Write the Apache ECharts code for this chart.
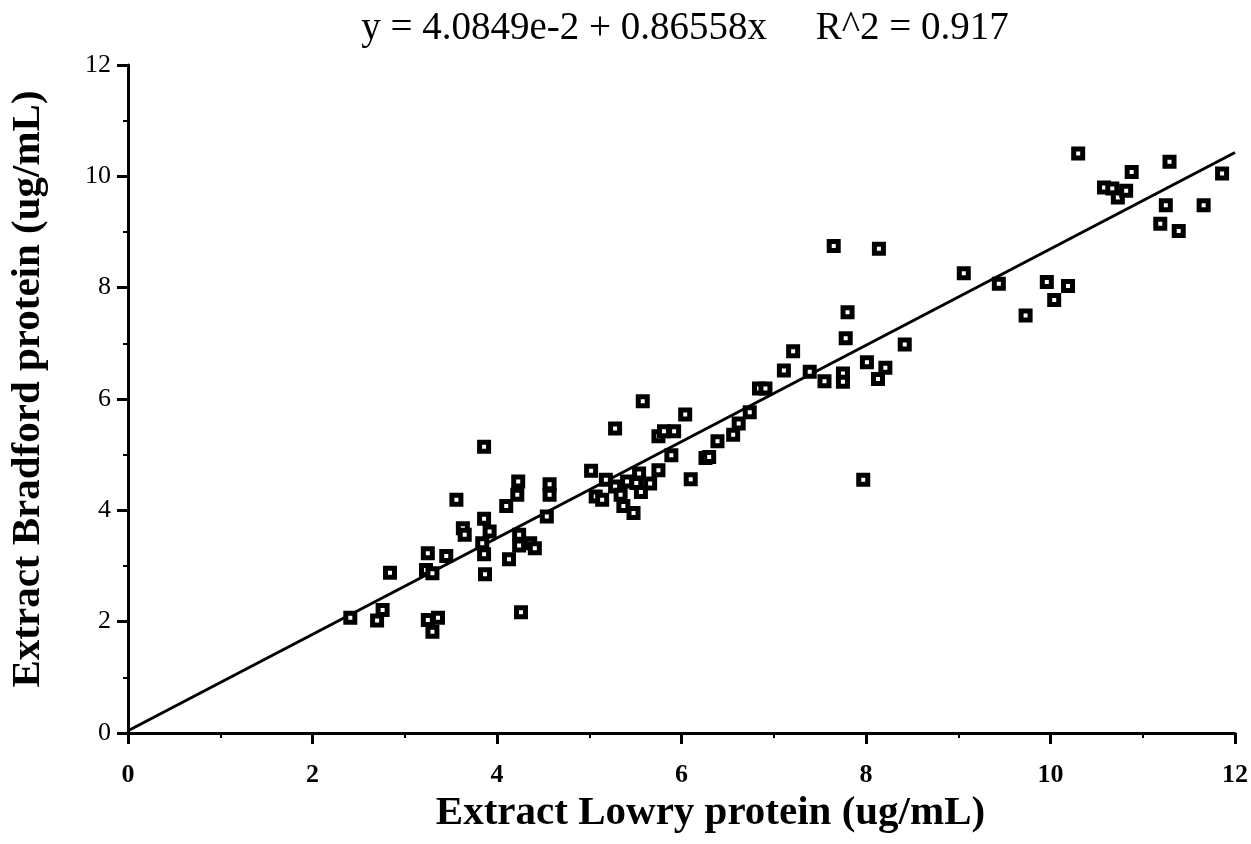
<!DOCTYPE html>
<html>
<head>
<meta charset="utf-8">
<script src="https://cdn.jsdelivr.net/npm/echarts@6/dist/echarts.min.js"></script>
<style>
html,body{margin:0;padding:0;background:#fff;}
#chart{width:1251px;height:844px;}
</style>
</head>
<body>
<div id="chart"></div>
<script>
// Extract Lowry protein (x) vs Extract Bradford protein (y), ug/mL
const lowryX = [
  2.41, 2.70, 2.76, 2.84, 3.25, 3.23, 3.30, 3.25, 3.36, 3.30,
  3.45, 3.56, 3.63, 3.65, 3.86, 3.86, 3.92, 3.84, 3.86, 3.87,
  4.10, 4.13, 4.22, 4.23, 4.24, 4.24, 4.26, 4.36, 4.41, 4.54,
  4.57, 4.57,
  5.02, 5.07, 5.14, 5.18, 5.28, 5.28, 5.34, 5.37, 5.41, 5.48,
  5.51, 5.54, 5.56, 5.58, 5.66, 5.75, 5.75, 5.81, 5.92, 5.89,
  6.04, 6.10, 6.26, 6.30, 6.39, 6.56, 6.62, 6.74, 6.84, 6.91,
  7.11, 7.21, 7.39, 7.55, 7.65, 7.75, 7.75, 7.78, 7.80, 7.97,
  8.01, 8.13, 8.14, 8.21, 8.42,
  9.06, 9.44, 9.73, 9.96, 10.04, 10.19, 10.30, 10.58, 10.67, 10.73,
  10.82, 10.88, 11.19, 11.25, 11.29, 11.39, 11.66, 11.86
];
const bradfordY = [
  2.07, 2.02, 2.21, 2.88, 3.23, 2.93, 2.87, 2.03, 2.07, 1.82,
  3.18, 4.19, 3.68, 3.56, 5.14, 3.85, 3.62, 3.41, 3.21, 2.85,
  4.08, 3.12, 4.28, 4.52, 3.56, 3.37, 2.17, 3.41, 3.32, 3.89,
  4.47, 4.28,
  4.71, 4.25, 4.19, 4.55, 4.43, 5.47, 4.28, 4.08, 4.52, 3.95,
  4.49, 4.66, 4.33, 5.96, 4.48, 4.72, 5.33, 5.42, 5.42, 4.99,
  5.72, 4.56, 4.94, 4.96, 5.24, 5.36, 5.56, 5.76, 6.19, 6.19,
  6.51, 6.86, 6.49, 6.32, 8.75, 6.46, 6.31, 7.09, 7.56, 4.55,
  6.66, 6.36, 8.70, 6.56, 6.98,
  8.26, 8.07, 7.50, 8.10, 7.78, 8.03, 10.41, 9.80, 9.78, 9.62,
  9.74, 10.08, 9.15, 9.48, 10.26, 9.02, 9.48, 10.05
];
// fitted line end points: y = 4.0849e-2 + 0.86558x
const fitX = [0, 12];
const fitY = [0.0408, 10.428];
const xTicks = [0, 2, 4, 6, 8, 10, 12];
const yTicks = [0, 2, 4, 6, 8, 10, 12];
const titleText = 'y = 4.0849e-2 + 0.86558x     R^2 = 0.917';
const xName = 'Extract Lowry protein (ug/mL)';
const yName = 'Extract Bradford protein (ug/mL)';

const serif = '"Liberation Serif", "DejaVu Serif", serif';
const chart = echarts.init(document.getElementById('chart'), null, {renderer: 'canvas'});
const scatterData = lowryX.map((x, i) => [x, bradfordY[i]]);
const lineData = fitX.map((x, i) => [x, fitY[i]]);

chart.setOption({
  backgroundColor: '#ffffff',
  animation: false,
  title: {
    text: titleText,
    left: 680, textAlign: 'center',
    top: 4,
    textStyle: {fontFamily: serif, fontSize: 39, fontWeight: 'normal', color: '#000'}
  },
  grid: {left: 119, right: 16, top: 65, bottom: 111, containLabel: false},
  xAxis: {
    type: 'value', min: xTicks[0], max: xTicks[xTicks.length - 1], interval: 2,
    name: xName, nameLocation: 'middle', nameGap: 47,
    nameTextStyle: {fontFamily: serif, fontSize: 41, fontWeight: 'bold', color: '#000', padding: [0, 0, 0, 58]},
    axisLine: {show: true, lineStyle: {color: '#000', width: 3}},
    axisTick: {show: true, inside: false, length: 11, lineStyle: {color: '#000', width: 3}},
    minorTick: {show: true, splitNumber: 2, length: 5, lineStyle: {color: '#000', width: 2}},
    axisLabel: {fontFamily: serif, fontSize: 26, fontWeight: 'bold', color: '#000', margin: 29},
    splitLine: {show: false}
  },
  yAxis: {
    type: 'value', min: yTicks[0], max: yTicks[yTicks.length - 1], interval: 2,
    name: yName, nameLocation: 'middle', nameGap: 79, nameRotate: 90,
    nameTextStyle: {fontFamily: serif, fontSize: 41, fontWeight: 'bold', color: '#000', padding: [0, 0, 0, 20]},
    axisLine: {show: true, lineStyle: {color: '#000', width: 3}},
    axisTick: {show: true, inside: false, length: 11, lineStyle: {color: '#000', width: 3}},
    minorTick: {show: true, splitNumber: 2, length: 5, lineStyle: {color: '#000', width: 2}},
    axisLabel: {fontFamily: serif, fontSize: 26, color: '#000', margin: 17},
    splitLine: {show: false}
  },
  series: [
    {
      type: 'line', data: lineData, symbol: 'none', silent: true,
      lineStyle: {color: '#000', width: 3}, z: 2
    },
    {
      type: 'scatter', data: scatterData, symbol: 'rect', symbolSize: 9,
      itemStyle: {color: '#fff', borderColor: '#000', borderWidth: 5, opacity: 1}, z: 3
    }
  ]
});
</script>
</body>
</html>
